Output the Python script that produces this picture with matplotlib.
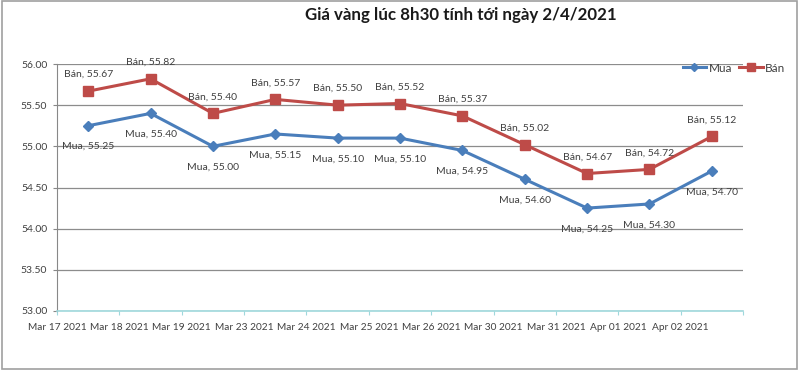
import matplotlib
matplotlib.use("Agg")
import matplotlib.pyplot as plt
from matplotlib.patches import Rectangle

plt.rcParams['font.family'] = ['Lato', 'DejaVu Sans']

TITLE = "Giá vàng lúc 8h30 tính tới ngày 2/4/2021"
dates = ["Mar 17 2021", "Mar 18 2021", "Mar 19 2021", "Mar 23 2021", "Mar 24 2021",
         "Mar 25 2021", "Mar 26 2021", "Mar 30 2021", "Mar 31 2021", "Apr 01 2021",
         "Apr 02 2021"]
mua = [55.25, 55.40, 55.00, 55.15, 55.10, 55.10, 54.95, 54.60, 54.25, 54.30, 54.70]
ban = [55.67, 55.82, 55.40, 55.57, 55.50, 55.52, 55.37, 55.02, 54.67, 54.72, 55.12]

BLUE = "#4a7ebb"
RED = "#be4b48"
TXT = "#404040"

fig = plt.figure(figsize=(8, 3.7), dpi=100)
ax = fig.add_axes([57 / 800, 1 - 311 / 370, 686 / 800, 247 / 370])

x = list(range(len(dates)))
ax.plot(x, mua, color=BLUE, lw=2.2, marker="D", ms=5, label="Mua", zorder=3)
ax.plot(x, ban, color=RED, lw=2.2, marker="s", ms=7, label="Bán", zorder=3)

# nhãn dữ liệu : Mua dưới, Bán trên
for xi, v in zip(x, mua):
    ax.annotate(f"Mua, {v:.2f}", (xi, v), xytext=(0, -15), textcoords="offset points",
                ha="center", va="center", fontsize=7.5, color=TXT)
for xi, v in zip(x, ban):
    ax.annotate(f"Bán, {v:.2f}", (xi, v), xytext=(0, 12), textcoords="offset points",
                ha="center", va="center", fontsize=7.5, color=TXT)

ax.set_xlim(-0.5, len(dates) - 0.5)
ax.set_ylim(53.0, 56.0)
ax.set_yticks([53.0 + 0.5 * i for i in range(7)])
ax.set_yticklabels([f"{53.0 + 0.5 * i:.2f}" for i in range(7)], fontsize=7.5, color=TXT)
ax.set_xticks([i - 0.5 for i in range(len(dates) + 1)])
ax.set_xticklabels(dates + [""], fontsize=7.3, color=TXT)
ax.tick_params(axis="x", length=3, color="#9fd8dc", pad=6)
ax.tick_params(axis="y", length=3, color="#888888", pad=4)
ax.grid(axis="y", color="#8c8c8c", lw=0.9)
ax.set_axisbelow(True)
for s in ("top", "right"):
    ax.spines[s].set_visible(False)
ax.spines["left"].set_color("#888888")
ax.spines["bottom"].set_color("#9fd8dc")
ax.spines["bottom"].set_linewidth(1.2)

fig.text(461 / 800, 1 - 15 / 370, TITLE, ha="center", va="center",
         fontsize=12.2, fontweight="bold", color="#1a1a1a")

ax.legend(loc="upper right", bbox_to_anchor=(800 / 800 - 0.005, 1 - 52 / 370),
          bbox_transform=fig.transFigure, ncol=2, frameon=False, fontsize=8.5,
          handlelength=2.0, columnspacing=0.6, handletextpad=0.2, labelcolor=TXT,
          markerscale=0.8)

fig.patches.append(Rectangle((0.002, 0.003), 0.994, 0.994, transform=fig.transFigure,
                             fill=False, edgecolor="#a0a0a0", lw=1.2))

fig.savefig("out.png", dpi=100)
